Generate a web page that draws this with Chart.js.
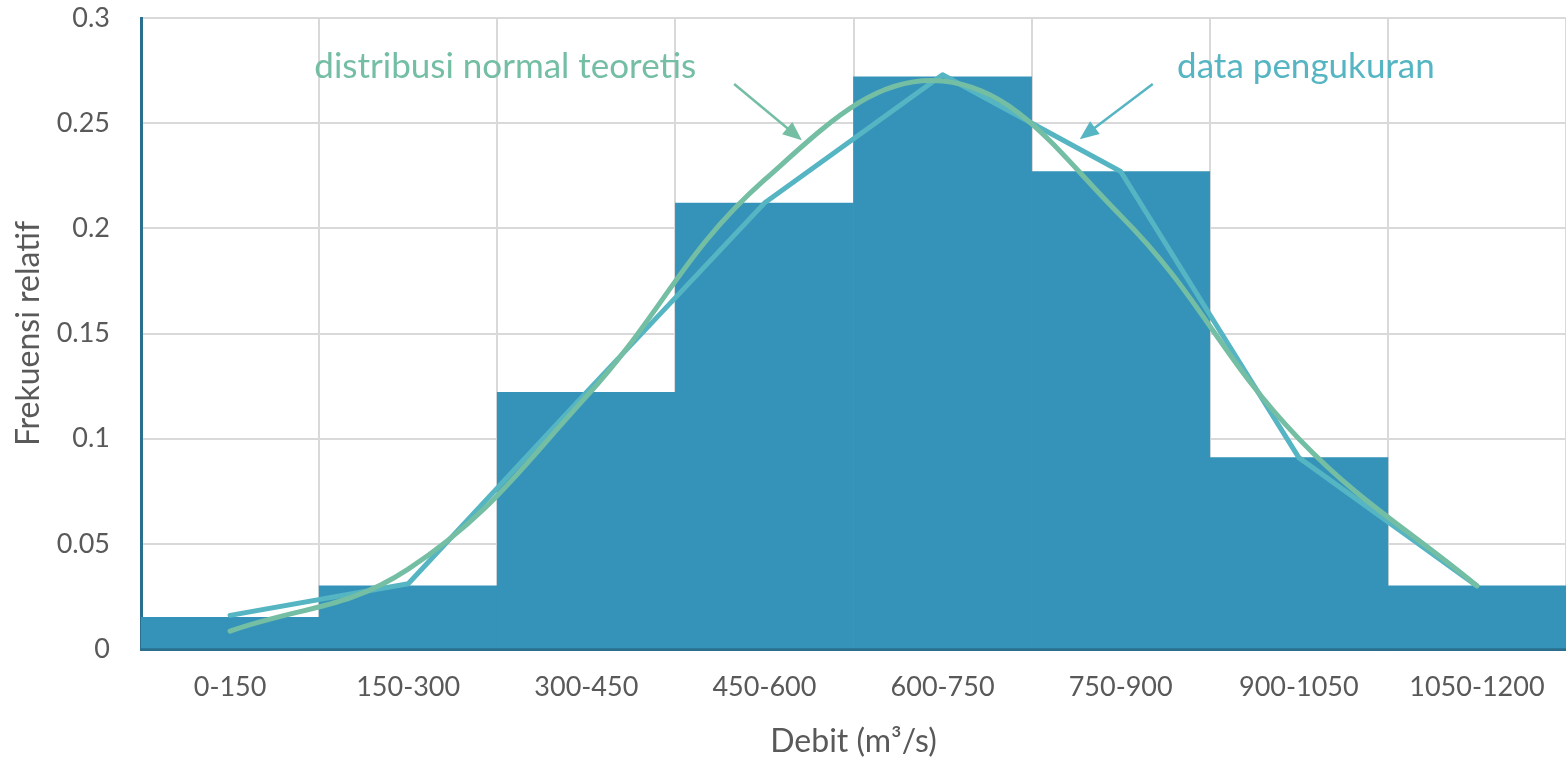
<!DOCTYPE html>
<html>
<head>
<meta charset="utf-8">
<script src="https://cdn.jsdelivr.net/npm/chart.js@4"></script>
<style>
html,body{margin:0;padding:0;background:#fff;}
#wrap{width:1566px;height:761px;position:relative;}
</style>
</head>
<body>
<div id="wrap"><canvas id="c"></canvas></div>
<script>
const categories = ['0-150','150-300','300-450','450-600','600-750','750-900','900-1050','1050-1200'];
const barValues = [0.015, 0.030, 0.122, 0.212, 0.272, 0.227, 0.091, 0.030];
const measuredValues = [0.016, 0.031, 0.122, 0.212, 0.273, 0.227, 0.091, 0.030];
const normalValues = [0.0085, 0.038, 0.120, 0.223, 0.270, 0.206, 0.100, 0.030];
const yTicks = [0, 0.05, 0.1, 0.15, 0.2, 0.25, 0.3];

const FONT = 'Lato, "Open Sans", sans-serif';
const GREEN = '#74BEA3';
const TEAL = '#55B5C3';

// annotations in data space: x as category index, y as value
const notes = [
  {text:'distribusi normal teoretis', color:GREEN, x:1.545, y:0.2767,
   arrow:{x1:2.83, y1:0.2686, x2:3.21, y2:0.2419}},
  {text:'data pengukuran', color:TEAL, x:6.04, y:0.2767,
   arrow:{x1:5.18, y1:0.2686, x2:4.77, y2:0.2424}}
];

const notePlugin = {
  id:'notes',
  afterDatasetsDraw(chart){
    const {ctx, scales:{x, y}} = chart;
    ctx.save();
    notes.forEach(n=>{
      ctx.font = '35px ' + FONT;
      ctx.fillStyle = n.color;
      ctx.textAlign = 'center';
      ctx.textBaseline = 'middle';
      ctx.fillText(n.text, x.getPixelForValue(n.x), y.getPixelForValue(n.y));
      const a = n.arrow;
      const x1 = x.getPixelForValue(a.x1), y1 = y.getPixelForValue(a.y1);
      const x2 = x.getPixelForValue(a.x2), y2 = y.getPixelForValue(a.y2);
      const ang = Math.atan2(y2-y1, x2-x1);
      const hl = 19, hw = 8;
      ctx.strokeStyle = n.color;
      ctx.lineWidth = 2.5;
      ctx.beginPath();
      ctx.moveTo(x1,y1);
      ctx.lineTo(x2 - Math.cos(ang)*hl*0.8, y2 - Math.sin(ang)*hl*0.8);
      ctx.stroke();
      ctx.beginPath();
      ctx.moveTo(x2,y2);
      ctx.lineTo(x2 - Math.cos(ang)*hl + Math.sin(ang)*hw, y2 - Math.sin(ang)*hl - Math.cos(ang)*hw);
      ctx.lineTo(x2 - Math.cos(ang)*hl - Math.sin(ang)*hw, y2 - Math.sin(ang)*hl + Math.cos(ang)*hw);
      ctx.closePath();
      ctx.fill();
    });
    ctx.restore();
  }
};

new Chart(document.getElementById('c'), {
  type:'bar',
  data:{
    labels:categories,
    datasets:[
      {type:'line', label:'distribusi normal teoretis', data:normalValues, borderColor:GREEN,
       borderWidth:5, pointRadius:0, tension:0.4, fill:false, order:1, borderCapStyle:'round'},
      {type:'line', label:'data pengukuran', data:measuredValues, borderColor:TEAL,
       borderWidth:5, pointRadius:0, tension:0, fill:false, order:2, borderCapStyle:'round', borderJoinStyle:'round'},
      {type:'bar', label:'frekuensi', data:barValues, backgroundColor:'#3593BA',
       barPercentage:1, categoryPercentage:1, borderWidth:0, order:3}
    ]
  },
  options:{
    responsive:true, maintainAspectRatio:false, animation:false,
    layout:{padding:{top:18, right:0, left:0, bottom:0}},
    plugins:{legend:{display:false}, tooltip:{enabled:false}},
    scales:{
      x:{
        offset:true,
        grid:{color:'#D9D9D9', lineWidth:2, drawTicks:false, offset:true},
        border:{color:'#2A6F8E', width:3},
        ticks:{color:'#595959', font:{family:FONT, size:27}, padding:22, maxRotation:0, autoSkip:false},
        title:{display:true, text:'Debit (m³/s)', color:'#595959', font:{family:FONT, size:32}, padding:{top:0,bottom:0}},
        afterFit(s){ s.height = 112; s.paddingLeft = 0; s.paddingRight = 0; }
      },
      y:{
        min:0, max:0.3,
        afterBuildTicks(s){ s.ticks = yTicks.map(v=>({value:v})); },
        grid:{color:'#D9D9D9', lineWidth:2, drawTicks:false},
        border:{color:'#2A6F8E', width:3},
        ticks:{color:'#595959', font:{family:FONT, size:27}, padding:31, callback:v=>String(v)},
        title:{display:true, text:'Frekuensi relatif', color:'#595959', font:{family:FONT, size:32}, padding:{top:9,bottom:9}},
        afterFit(s){ s.width = 141; s.paddingTop = 0; s.paddingBottom = 0; }
      }
    }
  },
  plugins:[notePlugin]
});
</script>
</body>
</html>
